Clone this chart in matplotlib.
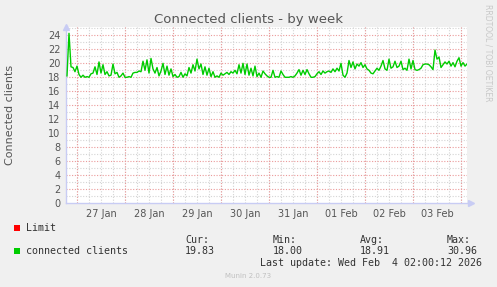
import matplotlib.pyplot as plt
import numpy as np
from matplotlib.patches import Rectangle

# hours relative to 27 Jan 00:00, one value per hour
start_hour = -5
clients = [18.2, 24.3, 19.5, 19.4, 18.8,
           # 27 Jan
           19.6, 18.4, 18.0, 18.3, 18.0, 18.1, 18.0, 18.5, 18.6, 19.5, 18.4, 20.2,
           18.6, 19.8, 18.4, 18.8, 18.2, 18.3, 19.9, 18.5, 18.7, 18.0, 18.2, 18.6,
           # 28 Jan
           18.0, 18.0, 18.1, 18.0, 18.6, 18.7, 18.7, 18.9, 18.8, 20.3, 19.0, 20.5,
           18.6, 20.7, 19.2, 18.6, 19.4, 18.2, 18.9, 20.0, 18.4, 19.6, 18.3, 19.2,
           # 29 Jan
           18.1, 18.4, 18.0, 18.1, 18.7, 18.0, 18.5, 18.2, 19.4, 18.6, 19.8, 18.9,
           20.6, 19.2, 19.9, 18.4, 19.5, 18.3, 19.3, 18.1, 18.8, 18.0, 18.2, 18.0,
           # 30 Jan
           18.6, 18.3, 18.5, 18.7, 18.4, 18.8, 18.6, 19.0, 18.5, 19.8, 18.6, 20.0,
           18.4, 19.9, 18.3, 19.3, 18.2, 19.6, 18.1, 18.6, 18.0, 18.9, 18.5, 18.2,
           # 31 Jan
           18.0, 18.0, 19.0, 18.0, 18.1, 18.0, 18.9, 18.4, 18.0, 18.0, 18.0, 18.1,
           18.0, 18.2, 18.6, 19.1, 18.3, 19.0, 18.4, 19.1, 18.5, 18.0, 18.0, 18.1,
           # 01 Feb
           18.5, 18.8, 18.4, 18.9, 18.6, 18.8, 18.9, 18.7, 19.2, 18.8, 19.3, 18.9,
           20.0, 18.3, 18.0, 18.6, 20.4, 19.4, 20.2, 19.2, 19.9, 19.6, 20.1, 19.4,
           # 02 Feb
           19.8, 19.2, 19.0, 18.6, 18.5, 18.9, 19.3, 19.0, 19.6, 20.4, 19.2, 19.0,
           20.6, 19.3, 19.5, 20.3, 19.4, 19.6, 20.3, 19.1, 19.3, 19.0, 20.6, 19.2,
           # 03 Feb
           20.4, 19.1, 19.0, 19.1, 19.3, 19.8, 19.9, 19.9, 19.8, 19.5, 19.1, 21.9,
           20.6, 20.9, 19.4, 19.8, 20.2, 19.9, 20.3, 19.6, 20.1, 19.5, 20.3, 20.8,
           # 04 Feb
           19.6, 20.1, 19.6, 19.9]

day_labels = ['27 Jan', '28 Jan', '29 Jan', '30 Jan', '31 Jan', '01 Feb', '02 Feb', '03 Feb']

hours = np.arange(len(clients)) + start_hour

W, H = 497, 287
fig = plt.figure(figsize=(W / 100, H / 100), dpi=100, facecolor='#F0F0F0')
ax = fig.add_axes([66 / W, 84 / H, 401 / W, 176 / H])
ax.set_facecolor('white')

ax.set_xlim(-5.5, 195)
ax.set_ylim(0, 25.2)

# grid
dot = (0, (1, 1.5))
for h in np.arange(-0, 195, 6):
    ax.axvline(h, color='#d4d4d4', lw=0.8, ls=dot, zorder=1)
for v in range(1, 26, 2):
    ax.axhline(v, color='#d4d4d4', lw=0.8, ls=dot, zorder=1)
for h in np.arange(0, 195, 24):
    ax.axvline(h, color='#eb9a9a', lw=0.8, ls=dot, zorder=2)
for v in range(2, 25, 2):
    ax.axhline(v, color='#eb9a9a', lw=0.8, ls=dot, zorder=2)

ax.plot(hours, clients, color='#00CC00', lw=1.0, zorder=3)

ax.set_yticks(range(0, 25, 2))
ax.set_xticks(np.arange(12, 192, 24))
ax.set_xticklabels(day_labels)
ax.tick_params(length=0, labelsize=7, colors='#555555', pad=4)

for s in ['top', 'right']:
    ax.spines[s].set_visible(False)
for s in ['left', 'bottom']:
    ax.spines[s].set_color('#c8ccf4')
    ax.spines[s].set_linewidth(1)
ax.plot([0], [1], marker='^', color='#c8ccf4', ms=4, transform=ax.transAxes, clip_on=False)
ax.plot([1.01], [0], marker='>', color='#c8ccf4', ms=4, transform=ax.transAxes, clip_on=False)

fig.text(248 / W, 1 - 19 / H, 'Connected clients - by week', ha='center', va='center',
         fontsize=9.5, color='#555555')
fig.text(10 / W, 1 - 115 / H, 'Connected clients', rotation=90, ha='center', va='center',
         fontsize=8, color='#555555')
fig.text(488 / W, 1 - 53 / H, 'RRDTOOL / TOBI OETIKER', rotation=270, ha='center', va='center',
         fontsize=5.5, color='#c8c8c8')

# legend
mono = dict(family='DejaVu Sans Mono', fontsize=7.2, color='#333333', va='center')
fig.patches.append(Rectangle((14 / W, 1 - 231 / H), 6 / W, 6 / H, transform=fig.transFigure,
                             facecolor='#FF0000', edgecolor='none'))
fig.patches.append(Rectangle((14 / W, 1 - 254 / H), 6 / W, 6 / H, transform=fig.transFigure,
                             facecolor='#00CC00', edgecolor='none'))
fig.text(26 / W, 1 - 228 / H, 'Limit', **mono)
fig.text(26 / W, 1 - 251 / H, 'connected clients', **mono)
fig.text(185 / W, 1 - 240 / H, 'Cur:', **mono)
fig.text(273 / W, 1 - 240 / H, 'Min:', **mono)
fig.text(360 / W, 1 - 240 / H, 'Avg:', **mono)
fig.text(447 / W, 1 - 240 / H, 'Max:', **mono)
fig.text(185 / W, 1 - 251 / H, '19.83', **mono)
fig.text(273 / W, 1 - 251 / H, '18.00', **mono)
fig.text(360 / W, 1 - 251 / H, '18.91', **mono)
fig.text(447 / W, 1 - 251 / H, '30.96', **mono)
fig.text(482 / W, 1 - 263 / H, 'Last update: Wed Feb  4 02:00:12 2026', ha='right', **mono)
fig.text(248 / W, 1 - 276 / H, 'Munin 2.0.73', ha='center', va='center', fontsize=5, color='#c0c0c0')

fig.savefig('out.png', dpi=100, facecolor=fig.get_facecolor())
